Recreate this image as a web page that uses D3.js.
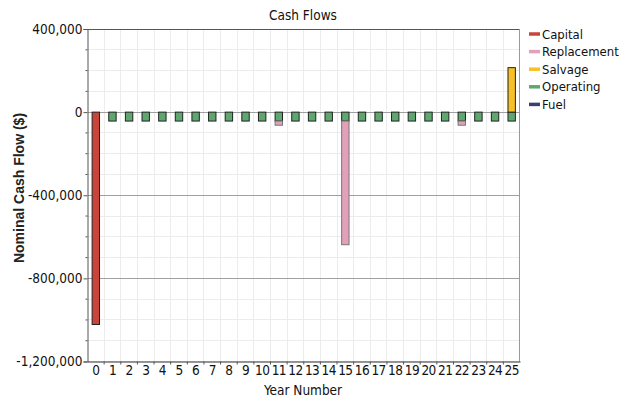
<!DOCTYPE html>
<html><head><meta charset="utf-8">
<script src="https://cdn.jsdelivr.net/npm/d3@7"></script>
<style>body{margin:0;background:#fff}svg{display:block}text{font-family:"DejaVu Sans Condensed","Liberation Sans",sans-serif}</style>
</head><body><svg id="c" width="622" height="400"></svg>
<script>
const years = d3.range(0, 26);
const capital     = [-1022000,0,0,0,0,0,0,0,0,0,0,0,0,0,0,0,0,0,0,0,0,0,0,0,0,0];
const replacement = [0,0,0,0,0,0,0,0,0,0,0,-20000,0,0,0,-595000,0,0,0,0,0,0,-20000,0,0,0];
const salvage     = [0,0,0,0,0,0,0,0,0,0,0,0,0,0,0,0,0,0,0,0,0,0,0,0,0,214000];
const operating   = [0,-43000,-43000,-43000,-43000,-43000,-43000,-43000,-43000,-43000,-43000,-43000,-43000,-43000,-43000,-43000,-43000,-43000,-43000,-43000,-43000,-43000,-43000,-43000,-43000,-43000];
const fuel        = [0,0,0,0,0,0,0,0,0,0,0,0,0,0,0,0,0,0,0,0,0,0,0,0,0,0];
const seriesNames = ["Capital","Replacement","Salvage","Operating","Fuel"];
const seriesColors = {Capital:"#c9443a",Replacement:"#e3a1b9",Salvage:"#f7c024",Operating:"#5ea86f",Fuel:"#3a3f6e"};
const strokeColors = {Capital:"#222",Replacement:"#777",Salvage:"#222",Operating:"#222",Fuel:"#222"};
const yTicks = [400000, 0, -400000, -800000, -1200000];

const table = years.map((y,i)=>({year:y,Capital:capital[i],Replacement:replacement[i],Salvage:salvage[i],Operating:operating[i],Fuel:fuel[i]}));
const stackKeys = ["Capital","Operating","Replacement","Salvage","Fuel"];
const stacked = d3.stack().keys(stackKeys).offset(d3.stackOffsetDiverging)(table);

const svg = d3.select("#c");
const L=87.5, R=520, T=29, B=361.5;
const x = d3.scaleBand().domain(years).range([L,R]).paddingInner(0).paddingOuter(0);
const y = d3.scaleLinear().domain([-1200000,400000]).range([B,T]);
const fmt = d3.formatLocale({decimal:".",thousands:",",grouping:[3],currency:["$",""],minus:"-"}).format(",");

// minor grid
const minorY = d3.range(-1200000, 400001, 100000);
svg.append("g").selectAll("line").data(minorY).join("line")
  .attr("x1",L).attr("x2",R).attr("y1",d=>y(d)).attr("y2",d=>y(d))
  .attr("stroke","#ececec").attr("stroke-width",1).attr("shape-rendering","crispEdges");
svg.append("g").selectAll("line").data(years.slice(1)).join("line")
  .attr("x1",d=>x(d)).attr("x2",d=>x(d)).attr("y1",T).attr("y2",B)
  .attr("stroke","#ececec").attr("stroke-width",1).attr("shape-rendering","crispEdges");
// major grid
svg.append("g").selectAll("line").data(yTicks.filter(d=>d<400000 && d>-1200000)).join("line")
  .attr("x1",L).attr("x2",R).attr("y1",d=>y(d)).attr("y2",d=>y(d))
  .attr("stroke","#a0a0a0").attr("stroke-width",1).attr("shape-rendering","crispEdges");

// bars
const bw = 7.4;
svg.append("g").selectAll("g").data(stacked).join("g")
  .attr("fill",d=>seriesColors[d.key]).attr("stroke",d=>strokeColors[d.key])
  .selectAll("rect").data(d=>d.filter(s=>s[1]-s[0]!==0)).join("rect")
  .attr("x",d=>x.bandwidth()/2 + x(d.data.year) - bw/2)
  .attr("width",bw)
  .attr("y",d=>y(d[1]))
  .attr("height",d=>y(d[0])-y(d[1]))
  .attr("stroke-width",1);

// frame
svg.append("line").attr("x1",L).attr("x2",R).attr("y1",T+0.5).attr("y2",T+0.5).attr("stroke","#555");
svg.append("line").attr("x1",R-0.5).attr("x2",R-0.5).attr("y1",T).attr("y2",B).attr("stroke","#999");

// y axis
const yAxis = svg.append("g").attr("transform",`translate(${L},0)`)
  .call(d3.axisLeft(y).tickValues(yTicks).tickFormat(fmt).tickSize(4).tickPadding(1));
yAxis.select(".domain").attr("stroke","#555");
yAxis.selectAll(".tick line").attr("stroke","#555");
yAxis.selectAll("text").attr("font-size",13.5).attr("fill","#111");
svg.append("g").selectAll("line").data(minorY.filter(d=>!yTicks.includes(d))).join("line")
  .attr("x1",L-2).attr("x2",L).attr("y1",d=>y(d)).attr("y2",d=>y(d)).attr("stroke","#555");

// x axis
const xAxis = svg.append("g").attr("transform",`translate(0,${B})`)
  .call(d3.axisBottom(x).tickSize(0).tickPadding(4));
xAxis.select(".domain").attr("stroke","#333");
xAxis.selectAll("text").attr("font-size",13.5).attr("fill","#111").attr("letter-spacing","-0.6");
svg.append("g").selectAll("line").data(years.slice(1)).join("line")
  .attr("x1",d=>x(d)).attr("x2",d=>x(d)).attr("y1",B).attr("y2",B+3).attr("stroke","#555");

// titles
svg.append("text").attr("x",303).attr("y",20).attr("text-anchor","middle").attr("font-size",13.5).attr("fill","#111").text("Cash Flows");
svg.append("text").attr("x",303).attr("y",395).attr("text-anchor","middle").attr("font-size",13.5).attr("fill","#111").text("Year Number");
svg.append("text").attr("transform","translate(24,188) rotate(-90)").attr("text-anchor","middle")
  .attr("font-size",14).attr("font-weight","bold").attr("fill","#222")
  .style("font-family","'Liberation Sans',Arial,sans-serif").text("Nominal Cash Flow ($)");

// legend
const lg = svg.append("g").selectAll("g").data(seriesNames).join("g")
  .attr("transform",(d,i)=>`translate(529,${34+i*17.6})`);
lg.append("line").attr("x1",0).attr("x2",11).attr("y1",0).attr("y2",0)
  .attr("stroke",d=>seriesColors[d]).attr("stroke-width",3.5);
lg.append("text").attr("x",13).attr("y",4.5).attr("font-size",13).attr("fill","#111").text(d=>d);
</script></body></html>
